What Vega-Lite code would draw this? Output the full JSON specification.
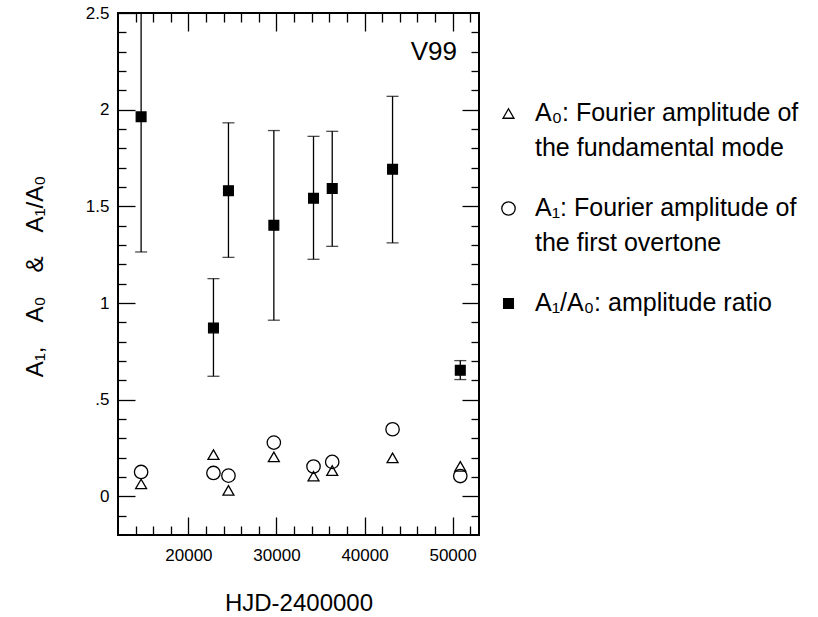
{
  "$schema": "https://vega.github.io/schema/vega-lite/v6.json",
  "width": 361,
  "height": 522,
  "autosize": {"type": "none"},
  "padding": {"left": 118, "top": 13, "right": 339, "bottom": 82},
  "background": "white",
  "config": {
    "view": {"stroke": "black", "strokeWidth": 2},
    "font": "Liberation Sans",
    "axis": {
      "domain": false,
      "grid": false,
      "tickColor": "black",
      "tickWidth": 1.3,
      "labelColor": "black",
      "labelFont": "Liberation Sans",
      "labelFontSize": 17,
      "titleFont": "Liberation Sans",
      "titleColor": "black",
      "titleFontWeight": "normal"
    },
    "legend": {
      "labelFont": "Liberation Sans",
      "labelFontSize": 25,
      "labelColor": "black",
      "labelLimit": 0
    }
  },
  "datasets": {
    "ratio": [
      {"hjd": 14625, "ratio": 1.963, "lo": 1.264, "hi": 2.6},
      {"hjd": 22841, "ratio": 0.871, "lo": 0.621, "hi": 1.126},
      {"hjd": 24545, "ratio": 1.581, "lo": 1.236, "hi": 1.932},
      {"hjd": 29700, "ratio": 1.402, "lo": 0.911, "hi": 1.892},
      {"hjd": 34205, "ratio": 1.542, "lo": 1.226, "hi": 1.862},
      {"hjd": 36330, "ratio": 1.592, "lo": 1.293, "hi": 1.888},
      {"hjd": 43182, "ratio": 1.692, "lo": 1.311, "hi": 2.069},
      {"hjd": 50875, "ratio": 0.652, "lo": 0.604, "hi": 0.702}
    ],
    "pts": [
      {"hjd": 14625, "series": "A0", "value": 0.064},
      {"hjd": 22841, "series": "A0", "value": 0.216},
      {"hjd": 24545, "series": "A0", "value": 0.031},
      {"hjd": 29700, "series": "A0", "value": 0.204},
      {"hjd": 34205, "series": "A0", "value": 0.104},
      {"hjd": 36330, "series": "A0", "value": 0.133},
      {"hjd": 43182, "series": "A0", "value": 0.199},
      {"hjd": 50875, "series": "A0", "value": 0.155},
      {"hjd": 14625, "series": "A1", "value": 0.126},
      {"hjd": 22841, "series": "A1", "value": 0.121},
      {"hjd": 24545, "series": "A1", "value": 0.107},
      {"hjd": 29700, "series": "A1", "value": 0.278},
      {"hjd": 34205, "series": "A1", "value": 0.154},
      {"hjd": 36330, "series": "A1", "value": 0.178},
      {"hjd": 43182, "series": "A1", "value": 0.347},
      {"hjd": 50875, "series": "A1", "value": 0.105},
      {"hjd": 14625, "series": "ratio", "value": 1.963},
      {"hjd": 22841, "series": "ratio", "value": 0.871},
      {"hjd": 24545, "series": "ratio", "value": 1.581},
      {"hjd": 29700, "series": "ratio", "value": 1.402},
      {"hjd": 34205, "series": "ratio", "value": 1.542},
      {"hjd": 36330, "series": "ratio", "value": 1.592},
      {"hjd": 43182, "series": "ratio", "value": 1.692},
      {"hjd": 50875, "series": "ratio", "value": 0.652}
    ]
  },
  "layer": [
    {
      "data": {"name": "ratio"},
      "mark": {"type": "rule", "color": "black", "strokeWidth": 1.3, "clip": true},
      "encoding": {
        "x": {
          "field": "hjd", "type": "quantitative",
          "scale": {"domain": [12000, 53000], "nice": false, "zero": false},
          "axis": {
            "orient": "bottom",
            "values": [14000, 16000, 18000, 20000, 22000, 24000, 26000, 28000, 30000, 32000, 34000, 36000, 38000, 40000, 42000, 44000, 46000, 48000, 50000, 52000],
            "format": "d",
            "tickSize": {"condition": {"test": "datum.value % 10000 === 0", "value": -18}, "value": -9},
            "labelExpr": "datum.value % 10000 === 0 ? datum.label : ''",
            "labelPadding": 30,
            "labelFlush": false,
            "labelOverlap": false,
            "title": "HJD-2400000",
            "titleFontSize": 24,
            "titleX": 180.5,
            "titleY": 75,
            "titleBaseline": "alphabetic",
            "titleAlign": "center"
          }
        },
        "y": {
          "field": "lo", "type": "quantitative",
          "scale": {"domain": [-0.2, 2.5], "nice": false, "zero": false},
          "axis": {
            "orient": "left",
            "values": [-0.1, 0, 0.1, 0.2, 0.3, 0.4, 0.5, 0.6, 0.7, 0.8, 0.9, 1, 1.1, 1.2, 1.3, 1.4, 1.5, 1.6, 1.7, 1.8, 1.9, 2, 2.1, 2.2, 2.3, 2.4, 2.5],
            "format": "~g",
            "tickSize": {"condition": {"test": "abs(datum.value*2 - round(datum.value*2)) < 0.001", "value": -17}, "value": -8},
            "labelExpr": "abs(datum.value*2 - round(datum.value*2)) < 0.001 ? (datum.value == 0.5 ? '.5' : datum.label) : ''",
            "labelPadding": 26,
            "labelFlush": false,
            "labelOverlap": false,
            "title": "A₁,\u2003A₀\u2003&\u2003A₁/A₀",
            "titleFontSize": 24,
            "titleAngle": -90,
            "titleX": -76,
            "titleY": 263,
            "titleBaseline": "alphabetic",
            "titleAlign": "center"
          }
        },
        "y2": {"field": "hi"}
      }
    },
    {
      "data": {"name": "ratio"},
      "mark": {"type": "tick", "orient": "horizontal", "color": "black", "thickness": 1.3, "size": 12, "clip": true},
      "encoding": {
        "x": {"field": "hjd", "type": "quantitative", "axis": null},
        "y": {"field": "lo", "type": "quantitative", "axis": null}
      }
    },
    {
      "data": {"name": "ratio"},
      "mark": {"type": "tick", "orient": "horizontal", "color": "black", "thickness": 1.3, "size": 12, "clip": true},
      "encoding": {
        "x": {"field": "hjd", "type": "quantitative", "axis": null},
        "y": {"field": "hi", "type": "quantitative", "axis": null}
      }
    },
    {
      "data": {"name": "pts"},
      "mark": {"type": "point", "stroke": "black", "strokeWidth": 1.3, "opacity": 1},
      "encoding": {
        "x": {
          "field": "hjd", "type": "quantitative",
          "axis": {
            "orient": "top",
            "values": [14000, 16000, 18000, 20000, 22000, 24000, 26000, 28000, 30000, 32000, 34000, 36000, 38000, 40000, 42000, 44000, 46000, 48000, 50000, 52000],
            "tickSize": {"condition": {"test": "datum.value % 10000 === 0", "value": -18}, "value": -9},
            "labels": false,
            "title": null
          }
        },
        "y": {
          "field": "value", "type": "quantitative",
          "axis": {
            "orient": "right",
            "values": [-0.1, 0, 0.1, 0.2, 0.3, 0.4, 0.5, 0.6, 0.7, 0.8, 0.9, 1, 1.1, 1.2, 1.3, 1.4, 1.5, 1.6, 1.7, 1.8, 1.9, 2, 2.1, 2.2, 2.3, 2.4],
            "tickSize": {"condition": {"test": "abs(datum.value*2 - round(datum.value*2)) < 0.001", "value": -17}, "value": -8},
            "labels": false,
            "title": null
          }
        },
        "shape": {
          "field": "series", "type": "nominal",
          "scale": {"domain": ["A0", "A1", "ratio"], "range": ["triangle-up", "circle", "square"]},
          "legend": {
            "orient": "none",
            "legendX": 378,
            "legendY": 88,
            "title": null,
            "padding": 0,
            "rowPadding": 34,
            "labelOffset": 14,
            "labelBaseline": "top",
            "symbolStrokeColor": "black",
            "symbolStrokeWidth": 1.3,
            "labelExpr": "datum.label == 'A0' ? ['A₀: Fourier amplitude of', 'the fundamental mode'] : datum.label == 'A1' ? ['A₁: Fourier amplitude of', 'the first overtone'] : 'A₁/A₀: amplitude ratio'",
            "encoding": {
              "labels": {"lineHeight": {"value": 35}, "dy": {"value": -13}},
              "symbols": {"stroke": {"value": "black"}, "strokeWidth": {"value": 1.3}}
            }
          }
        },
        "fill": {
          "field": "series", "type": "nominal",
          "scale": {"domain": ["A0", "A1", "ratio"], "range": ["transparent", "transparent", "black"]}
        },
        "size": {
          "field": "series", "type": "nominal",
          "scale": {"type": "ordinal", "domain": ["A0", "A1", "ratio"], "range": [120, 180, 95]}
        }
      }
    },
    {
      "data": {"values": [{}]},
      "mark": {"type": "text", "text": "V99", "fontSize": 26, "font": "Liberation Sans", "color": "black", "align": "center", "baseline": "middle"},
      "encoding": {
        "x": {"datum": 47864, "type": "quantitative", "axis": null},
        "y": {"datum": 2.3, "type": "quantitative", "axis": null}
      }
    }
  ],
  "resolve": {"axis": {"x": "independent", "y": "independent"}}
}
